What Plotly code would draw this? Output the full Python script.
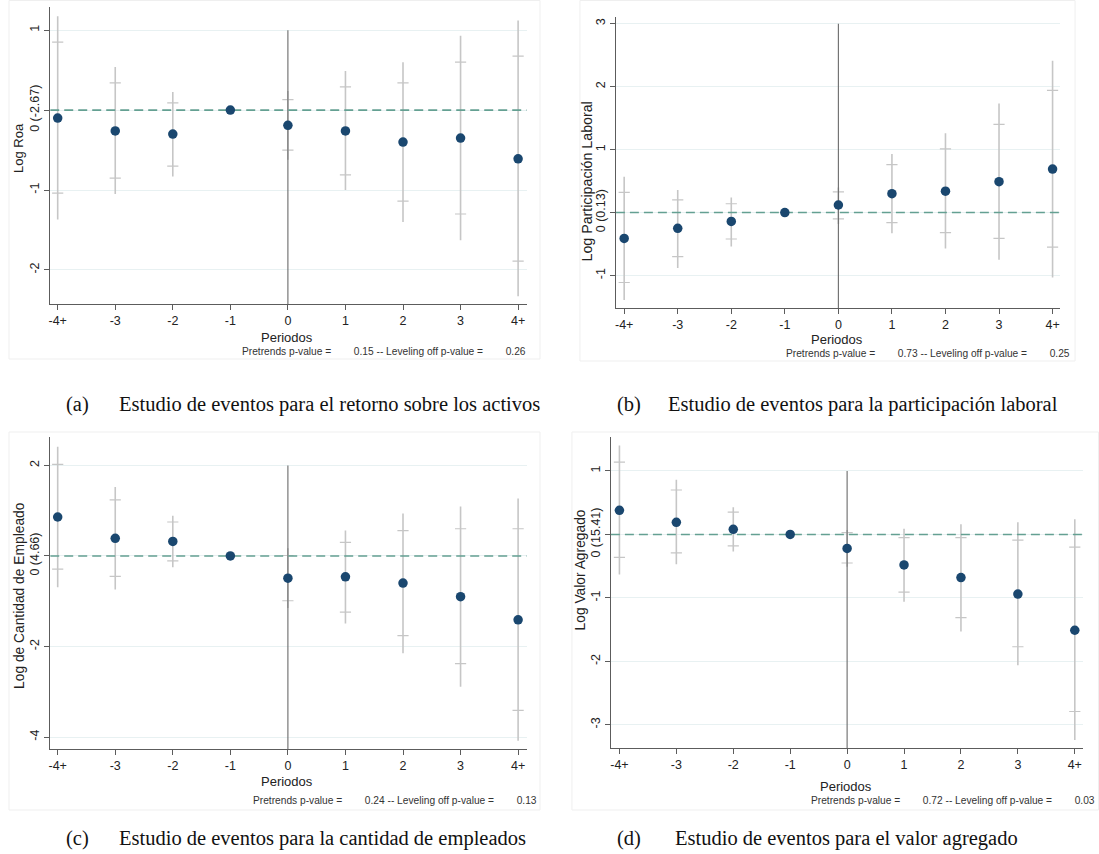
import plotly.graph_objects as go

W, H = 1099, 854

# ---------------- data ----------------
periods = [-4, -3, -2, -1, 0, 1, 2, 3, 4]
period_labels = ["-4+", "-3", "-2", "-1", "0", "1", "2", "3", "4+"]

# (a) Log Roa
a_est = [-0.10, -0.26, -0.30, 0.0, -0.19, -0.26, -0.40, -0.35, -0.61]
a_lo95 = [-1.37, -1.05, -0.83, None, -0.62, -1.00, -1.40, -1.63, -2.33]
a_hi95 = [1.175, 0.54, 0.225, None, 0.24, 0.49, 0.60, 0.93, 1.12]
a_lo90 = [-1.04, -0.85, -0.70, None, -0.50, -0.81, -1.14, -1.30, -1.89]
a_hi90 = [0.85, 0.34, 0.09, None, 0.13, 0.29, 0.34, 0.60, 0.675]
a_yticks = [-2, -1, 0, 1]
a_yticktext = ["-2", "-1", "0 (-2.67)", "1"]

# (b) Log Participación Laboral
b_est = [-0.41, -0.25, -0.14, 0.0, 0.12, 0.30, 0.34, 0.49, 0.69]
b_lo95 = [-1.39, -0.88, -0.54, None, -0.18, -0.33, -0.57, -0.75, -1.03]
b_hi95 = [0.57, 0.36, 0.24, None, 0.40, 0.93, 1.26, 1.73, 2.41]
b_lo90 = [-1.11, -0.70, -0.42, None, -0.10, -0.16, -0.32, -0.41, -0.55]
b_hi90 = [0.32, 0.20, 0.14, None, 0.33, 0.76, 1.01, 1.40, 1.94]
b_yticks = [-1, 0, 1, 2, 3]
b_yticktext = ["-1", "0 (0.13)", "1", "2", "3"]

# (c) Log de Cantidad de Empleado
c_est = [0.86, 0.39, 0.32, 0.0, -0.49, -0.46, -0.60, -0.90, -1.41]
c_lo95 = [-0.69, -0.74, -0.25, None, -1.15, -1.49, -2.15, -2.89, -4.08]
c_hi95 = [2.41, 1.52, 0.89, None, 0.17, 0.56, 0.94, 1.09, 1.27]
c_lo90 = [-0.29, -0.45, -0.11, None, -0.99, -1.24, -1.76, -2.38, -3.41]
c_hi90 = [2.02, 1.24, 0.75, None, 0.01, 0.30, 0.56, 0.60, 0.60]
c_yticks = [-4, -2, 0, 2]
c_yticktext = ["-4", "-2", "0 (4.66)", "2"]

# (d) Log Valor Agregado
d_est = [0.38, 0.19, 0.08, 0.0, -0.22, -0.48, -0.68, -0.94, -1.51]
d_lo95 = [-0.63, -0.47, -0.27, None, -0.51, -1.06, -1.53, -2.06, -3.24]
d_hi95 = [1.40, 0.86, 0.43, None, 0.07, 0.09, 0.16, 0.19, 0.24]
d_lo90 = [-0.36, -0.29, -0.18, None, -0.45, -0.91, -1.31, -1.77, -2.79]
d_hi90 = [1.14, 0.70, 0.35, None, 0.03, -0.05, -0.05, -0.09, -0.20]
d_yticks = [-3, -2, -1, 0, 1]
d_yticktext = ["-3", "-2", "-1", "0 (15.41)", "1"]

y_titles = ["Log Roa", "Log Participación Laboral",
            "Log de Cantidad de Empleado", "Log Valor Agregado"]
pvals_pre = ["0.15", "0.73", "0.24", "0.72"]
pvals_lev = ["0.26", "0.25", "0.13", "0.03"]
captions_lbl = ["(a)", "(b)", "(c)", "(d)"]
captions_txt = ["Estudio de eventos para el retorno sobre los activos",
                "Estudio de eventos para la participación laboral",
                "Estudio de eventos para la cantidad de empleados",
                "Estudio de eventos para el valor agregado"]
x_title = "Periodos"

# ---------------- layout geometry (pixels) ----------------
def px(x):
    return x / W

def py(y):
    return 1 - y / H

panels = [
    dict(est=a_est, lo95=a_lo95, hi95=a_hi95, lo90=a_lo90, hi90=a_hi90,
         yt=a_yticks, ytt=a_yticktext, ytsize=13,
         box=(48.3, 525.7, 7, 304.3), xr=[-4.13, 4.15], yr=[-2.43, 1.29],
         ytitle=(17, 148), xtitle=(286, 337), ptxt=(527, 351.5),
         frame=(7, 539, 0.5, 359), cap=(62, 115, 404)),
    dict(est=b_est, lo95=b_lo95, hi95=b_hi95, lo90=b_lo90, hi90=b_hi90,
         yt=b_yticks, ytt=b_yticktext, ytsize=14.2,
         box=(615, 1060, 16.7, 308.3), xr=[-4.155, 4.14], yr=[-1.52, 3.11],
         ytitle=(586.5, 181), xtitle=(837, 339), ptxt=(1072, 353.5),
         frame=(579, 1075, 0.5, 361), cap=(614, 665, 404)),
    dict(est=c_est, lo95=c_lo95, hi95=c_hi95, lo90=c_lo90, hi90=c_hi90,
         yt=c_yticks, ytt=c_yticktext, ytsize=13.8,
         box=(48.3, 525.7, 437.3, 749.3), xr=[-4.13, 4.15], yr=[-4.27, 2.62],
         ytitle=(17, 595), xtitle=(286, 781.5), ptxt=(538, 800.5),
         frame=(7, 539, 432, 810), cap=(62, 115, 838)),
    dict(est=d_est, lo95=d_lo95, hi95=d_hi95, lo90=d_lo90, hi90=d_hi90,
         yt=d_yticks, ytt=d_yticktext, ytsize=13.8,
         box=(610, 1083.3, 436.7, 748.3), xr=[-4.15, 4.15], yr=[-3.37, 1.54],
         ytitle=(579.5, 570), xtitle=(846, 786), ptxt=(1097, 800.5),
         frame=(571, 1098.5, 432, 810), cap=(614, 672, 838)),
]

NAVY = "#1a476f"
CI_GRAY = "#c6c6c6"
TEAL = "#64a092"
AXIS = "#5c5c5c"
GRID = "#e8f1f2"
FONT = "Liberation Sans, Arial, sans-serif"
SERIF = "Liberation Serif, Times New Roman, serif"

fig = go.Figure()
annotations = []
shapes = []
nb = "\u00a0"

for i, p in enumerate(panels, start=1):
    xa = "x" if i == 1 else f"x{i}"
    ya = "y" if i == 1 else f"y{i}"
    x0, x1, yt0, yb0 = p["box"]
    layout_x = "xaxis" if i == 1 else f"xaxis{i}"
    layout_y = "yaxis" if i == 1 else f"yaxis{i}"

    err_plus = [(h - e) if h is not None else 0 for h, e in zip(p["hi95"], p["est"])]
    err_minus = [(e - l) if l is not None else 0 for l, e in zip(p["lo95"], p["est"])]

    # outer CI
    fig.add_trace(go.Scatter(
        x=periods, y=p["est"], mode="markers", xaxis=xa, yaxis=ya,
        marker=dict(size=1, color="rgba(0,0,0,0)"),
        error_y=dict(type="data", symmetric=False, array=err_plus,
                     arrayminus=err_minus, width=0, thickness=1.6, color=CI_GRAY),
        showlegend=False, hoverinfo="skip"))
    # inner CI caps
    cap_x = [x for x, v in zip(periods, p["lo90"]) if v is not None] * 2
    cap_y = [v for v in p["lo90"] if v is not None] + [v for v in p["hi90"] if v is not None]
    fig.add_trace(go.Scatter(
        x=cap_x, y=cap_y, mode="markers", xaxis=xa, yaxis=ya,
        marker=dict(symbol="line-ew", size=8, line=dict(width=1.2, color=CI_GRAY)),
        showlegend=False, hoverinfo="skip"))
    # vertical reference line at period 0 (from bottom to top tick)
    fig.add_trace(go.Scatter(
        x=[0, 0], y=[p["yr"][0], max(p["yt"])], mode="lines", xaxis=xa, yaxis=ya,
        line=dict(color="#6a6a6a", width=1.1), showlegend=False, hoverinfo="skip"))
    # dashed horizontal line at 0
    fig.add_trace(go.Scatter(
        x=p["xr"], y=[0, 0], mode="lines", xaxis=xa, yaxis=ya,
        line=dict(color=TEAL, width=1.6, dash="9px,5px"), showlegend=False,
        hoverinfo="skip"))
    # point estimates
    fig.add_trace(go.Scatter(
        x=periods, y=p["est"], mode="markers", xaxis=xa, yaxis=ya,
        marker=dict(size=9.5, color=NAVY), showlegend=False, hoverinfo="skip"))

    fig.layout[layout_x] = dict(
        domain=[px(x0), px(x1)], range=p["xr"], anchor=ya,
        tickmode="array", tickvals=periods, ticktext=period_labels,
        showgrid=False, zeroline=False, showline=True, linecolor=AXIS, linewidth=1.2,
        ticks="outside", ticklen=5, tickcolor=AXIS, tickwidth=1,
        tickfont=dict(family=FONT, size=12.5, color="#222"))
    fig.layout[layout_y] = dict(
        domain=[py(yb0), py(yt0)], range=p["yr"], anchor=xa,
        tickmode="array", tickvals=p["yt"], ticktext=p["ytt"], tickangle=-90,
        showgrid=True, gridcolor=GRID, gridwidth=1, zeroline=False,
        showline=True, linecolor=AXIS, linewidth=1.2,
        ticks="outside", ticklen=5, tickcolor=AXIS, tickwidth=1,
        tickfont=dict(family=FONT, size=12.5, color="#222"))

    # axis titles
    annotations.append(dict(
        x=px(p["ytitle"][0]), y=py(p["ytitle"][1]), xref="paper", yref="paper",
        text=y_titles[i - 1], textangle=-90, showarrow=False,
        xanchor="center", yanchor="middle",
        font=dict(family=FONT, size=p["ytsize"], color="#222")))
    annotations.append(dict(
        x=px(p["xtitle"][0]), y=py(p["xtitle"][1]), xref="paper", yref="paper",
        text=x_title, showarrow=False, xanchor="center", yanchor="middle",
        font=dict(family=FONT, size=13, color="#222")))
    # p-value note
    note = ("Pretrends p-value =" + nb * 8 + pvals_pre[i - 1] +
            " -- Leveling off p-value =" + nb * 8 + pvals_lev[i - 1])
    annotations.append(dict(
        x=px(p["ptxt"][0]), y=py(p["ptxt"][1]), xref="paper", yref="paper",
        text=note, showarrow=False, xanchor="right", yanchor="middle",
        font=dict(family=FONT, size=10.2, color="#333")))
    # captions
    annotations.append(dict(
        x=px(p["cap"][0]), y=py(p["cap"][2]), xref="paper", yref="paper",
        text=captions_lbl[i - 1], showarrow=False, xanchor="left", yanchor="middle",
        font=dict(family=SERIF, size=20.5, color="#111")))
    annotations.append(dict(
        x=px(p["cap"][1]), y=py(p["cap"][2]), xref="paper", yref="paper",
        text=captions_txt[i - 1], showarrow=False, xanchor="left", yanchor="middle",
        font=dict(family=SERIF, size=20.5, color="#111")))
    # faint frame of each graph
    fx0, fx1, fy0, fy1 = p["frame"]
    shapes.append(dict(type="rect", xref="paper", yref="paper",
                       x0=px(fx0), x1=px(fx1), y0=py(fy1), y1=py(fy0),
                       line=dict(color="#efefef", width=1), layer="below"))

fig.update_layout(
    width=W, height=H, margin=dict(l=0, r=0, t=0, b=0),
    paper_bgcolor="white", plot_bgcolor="white",
    annotations=annotations, shapes=shapes, showlegend=False)

fig.write_html("out.html", config={"displayModeBar": False},
               post_script="document.body.style.margin='0';document.body.style.overflow='hidden';")
